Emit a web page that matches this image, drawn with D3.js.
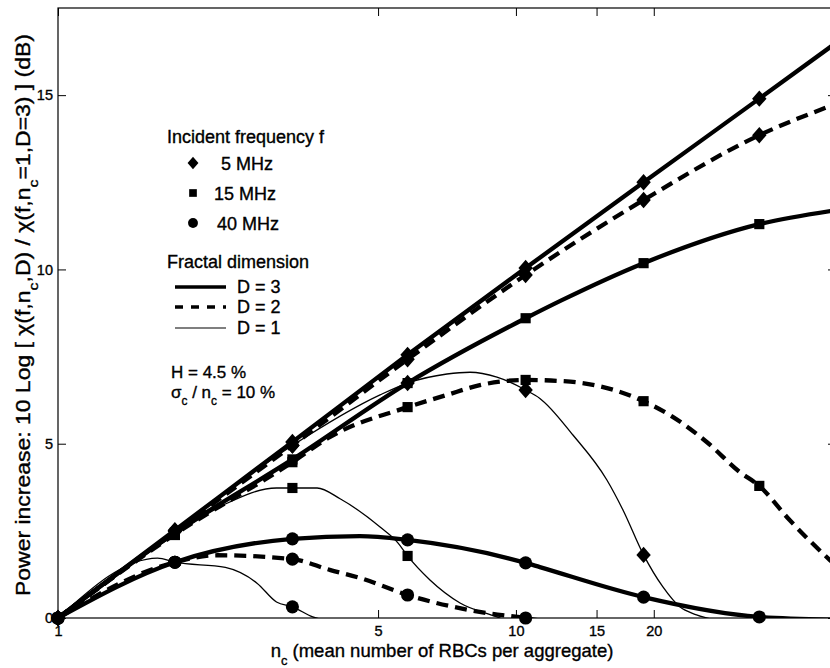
<!DOCTYPE html>
<html><head><meta charset="utf-8">
<script src="https://cdn.jsdelivr.net/npm/d3@7"></script>
<style>
body{margin:0;background:#fff}
svg{display:block;font-family:"Liberation Sans",Arial,Helvetica,sans-serif}
text{stroke:#000;stroke-width:0.35px}
</style></head><body>
<svg id="chart" width="830" height="668"></svg>
<script>
// n_c values where the markers sit, and the axis ticks
const markerN = [1, 1.8, 3.25, 5.8, 10.5, 19, 34];
const xTicks = [1, 5, 10, 15, 20];
const yTicks = [0, 5, 10, 15];

// [n_c, power increase dB]; below 0 is clipped away
const f5D3 = [[1,0],[1.8,2.52],[3.25,5.05],[5.8,7.55],[10.5,10.04],[19,12.5],[34,14.9],[50,16.5]];
const f5D2 = [[1,0],[1.8,2.48],[3.25,4.95],[5.8,7.42],[10.5,9.84],[19,11.99],[34,13.85],[50,14.75]];
const f5D1 = [[1,0],[1.8,2.5],[3.25,4.95],[5.05,6.4],[5.8,6.74],[7.07,7.0],[7.94,7.05],[9.09,6.91],[10.5,6.54],[11.28,6.3],[13.32,5.25],[15.8,3.96],[17.13,3.1],[19,1.81],[20.94,0.89],[22.8,0.32],[24.8,0.09],[27.5,-0.1],[34,-1.2]];
const f15D3 = [[1,0],[1.8,2.45],[3.25,4.55],[5.8,6.74],[10.5,8.6],[12.6,9.12],[19,10.18],[34,11.3],[50,11.7]];
const f15D2 = [[1,0],[1.8,2.4],[3.25,4.47],[3.92,5.19],[5.8,6.05],[7.07,6.4],[8.34,6.68],[10.5,6.83],[12.47,6.8],[13.8,6.75],[19,6.22],[22,5.77],[26.1,5.05],[30.8,4.19],[34,3.79],[39.6,2.81],[48.5,1.66],[50,1.5]];
const f15D1 = [[1,0],[1.8,2.38],[2.32,3.27],[3.0,3.73],[3.25,3.73],[3.68,3.73],[4.13,3.42],[5.05,2.61],[5.53,2.15],[5.8,1.78],[6.49,1.09],[7.55,0.43],[9.09,0.03],[10.5,-0.3],[12.5,-1]];
const f40D3 = [[1,0],[1.8,1.6],[3.25,2.27],[4.56,2.35],[5.8,2.24],[10.5,1.58],[11.28,1.46],[19,0.6],[34,0.03],[50,-0.05]];
const f40D2 = [[1,0],[1.8,1.6],[2.23,1.8],[3.25,1.69],[3.92,1.38],[4.56,1.15],[5.8,0.66],[8.65,0.14],[10.5,0.0],[12.47,-0.2],[19,-1]];
const f40D1 = [[1,0],[1.65,1.72],[1.8,1.6],[2.32,1.45],[2.72,1.0],[3.0,0.46],[3.25,0.32],[3.6,0.03],[3.92,-0.1],[5.8,-2]];

const series = [
  {f: 40, D: 3, data: f40D3}, {f: 40, D: 2, data: f40D2}, {f: 40, D: 1, data: f40D1},
  {f: 15, D: 3, data: f15D3}, {f: 15, D: 2, data: f15D2}, {f: 15, D: 1, data: f15D1},
  {f: 5, D: 3, data: f5D3}, {f: 5, D: 2, data: f5D2}, {f: 5, D: 1, data: f5D1},
];

const svg = d3.select('#chart');
const x = d3.scaleLog().domain([1, 50]).range([58, 836]);
const y = d3.scaleLinear().domain([0, 17.5]).range([618, 8]);

const lineStyle = {3: {w: 4.3, dash: null}, 2: {w: 4.3, dash: '12,7'}, 1: {w: 1.3, dash: null}};
const symbolPath = {
  5: (s) => `M0,${-s}L${s * 0.88},0L0,${s}L${-s * 0.88},0Z`,
  15: (s) => `M${-s * 0.62},${-s * 0.62}h${s * 1.24}v${s * 1.24}h${-s * 1.24}Z`,
  40: (s) => d3.arc()({innerRadius: 0, outerRadius: s * 0.8, startAngle: 0, endAngle: 2 * Math.PI}),
};

svg.append('clipPath').attr('id', 'plotClip').append('rect')
  .attr('x', x.range()[0]).attr('y', y.range()[1])
  .attr('width', x.range()[1] - x.range()[0]).attr('height', y.range()[0] - y.range()[1]);

// lines
const line = d3.line().x((d) => x(d[0])).y((d) => y(d[1])).curve(d3.curveMonotoneX);
const lines = svg.append('g').attr('clip-path', 'url(#plotClip)');
series.forEach((s) => {
  lines.append('path').attr('d', line(s.data)).attr('fill', 'none').attr('stroke', '#000')
    .attr('stroke-width', lineStyle[s.D].w).attr('stroke-dasharray', lineStyle[s.D].dash)
    .attr('stroke-linejoin', 'round');
});

// markers (only points inside the axes)
const marks = svg.append('g');
series.forEach((s) => {
  const pts = s.data.filter((d) => markerN.includes(d[0]) && d[1] >= 0 && d[1] <= 17.5);
  marks.selectAll(null).data(pts).enter().append('path')
    .attr('d', symbolPath[s.f](8.2))
    .attr('transform', (d) => `translate(${x(d[0])},${y(d[1])})`)
    .attr('fill', '#000');
});

// axes box with inward ticks
const styleAxis = (g) => {
  g.attr('font-family', null).attr('font-size', 14.5);
  g.select('.domain').remove();
  g.selectAll('.tick line').attr('stroke', '#000').attr('stroke-width', 1);
  g.selectAll('.tick text').attr('fill', '#000');
};
svg.append('g').attr('transform', `translate(0,${y(0)})`)
  .call(d3.axisBottom(x).tickValues(xTicks).tickFormat(d3.format('d')).tickSize(-8).tickPadding(8)).call(styleAxis);
svg.append('g').attr('transform', `translate(0,${y(17.5)})`)
  .call(d3.axisTop(x).tickValues(xTicks).tickFormat('').tickSize(-8)).call(styleAxis);
svg.append('g').attr('transform', `translate(${x(1)},0)`)
  .call(d3.axisLeft(y).tickValues(yTicks).tickSize(-8).tickPadding(5)).call(styleAxis);
svg.append('g').attr('transform', `translate(${x(50)},0)`)
  .call(d3.axisRight(y).tickValues(yTicks).tickFormat('').tickSize(-8)).call(styleAxis);
svg.append('rect').attr('x', x(1)).attr('y', y(17.5)).attr('width', x(50) - x(1)).attr('height', y(0) - y(17.5))
  .attr('fill', 'none').attr('stroke', '#000').attr('stroke-width', 1.2);

// text with subscripts: parts = [[string, isSub], ...]
const rich = (t, parts, size) => {
  let sub = false;
  parts.forEach(([str, isSub]) => {
    const ts = t.append('tspan').text(str);
    if (isSub && !sub) ts.attr('dy', size * 0.42).attr('font-size', size * 0.7);
    else if (!isSub && sub) ts.attr('dy', -size * 0.42);
    sub = isSub;
  });
  return t;
};

// axis labels
rich(svg.append('text').attr('x', 442).attr('y', 657).attr('text-anchor', 'middle').attr('font-size', 18.5),
  [['n', false], ['c', true], [' (mean number of RBCs per aggregate)', false]], 18.5);
rich(svg.append('text').attr('transform', 'translate(30,315) rotate(-90)').attr('text-anchor', 'middle').attr('font-size', 19.5)
  .attr('textLength', 562).attr('lengthAdjust', 'spacingAndGlyphs'),
  [['Power increase: 10 Log [ χ(f,n', false], ['c', true], [',D) / χ(f,n', false], ['c', true], ['=1,D=3) ] (dB)', false]], 19.5);

// legend
const leg = svg.append('g').attr('font-size', 18);
leg.append('text').attr('x', 167).attr('y', 143).text('Incident frequency f');
const freqLegend = [{f: 5, label: '5 MHz', y: 163, tx: 221}, {f: 15, label: '15 MHz', y: 193, tx: 214}, {f: 40, label: '40 MHz', y: 223, tx: 217}];
freqLegend.forEach((d) => {
  leg.append('path').attr('d', symbolPath[d.f](6.2)).attr('transform', `translate(193,${d.y})`).attr('fill', '#000');
  leg.append('text').attr('x', d.tx).attr('y', d.y + 7).text(d.label);
});
leg.append('text').attr('x', 167).attr('y', 268).text('Fractal dimension');
const dimLegend = [{D: 3, y: 287}, {D: 2, y: 307}, {D: 1, y: 328}];
dimLegend.forEach((d) => {
  leg.append('line').attr('x1', 175).attr('x2', 226).attr('y1', d.y).attr('y2', d.y)
    .attr('stroke', '#000').attr('stroke-width', lineStyle[d.D].w * 0.8).attr('stroke-dasharray', d.D == 2 ? '8,8' : null);
  leg.append('text').attr('x', 237).attr('y', d.y + 6).text(`D = ${d.D}`);
});
leg.append('text').attr('x', 171).attr('y', 378).attr('font-size', 17).text('H = 4.5 %');
rich(leg.append('text').attr('x', 171).attr('y', 398).attr('font-size', 17),
  [['σ', false], ['c', true], [' / n', false], ['c', true], [' = 10 %', false]], 17);
</script>
</body></html>
